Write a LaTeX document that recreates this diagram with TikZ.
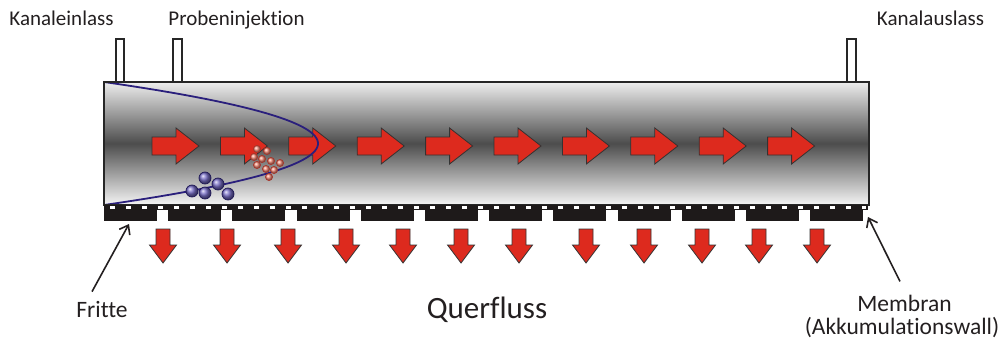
\documentclass[tikz,border=0pt]{standalone}
\usepackage{fontspec}
\setmainfont{Carlito}[RawFeature=-liga]
\usetikzlibrary{arrows.meta,calc}

\definecolor{flowred}{HTML}{DD2A1E}
\definecolor{profileblue}{HTML}{2A1F7C}
\definecolor{fritblack}{HTML}{1E1A1A}
\definecolor{textgray}{HTML}{231F20}

\tikzset{
    %Define standard arrow tip
    >={Straight Barb[length=8pt,width=12pt]},
    %Define style for labels
    label text/.style={
           font=\fontsize{21}{25}\selectfont,
           text=textgray,
           anchor=base,
           inner sep=0pt},
    lower label/.style={
           label text,
           font=\fontsize{23.5}{28}\selectfont},
    % Define arrow style
    pointer/.style={
           ->,
           line width=1.6pt,
           draw=textgray},
    % Flow arrows along and across the channel
    flowright/.pic={
           \draw[flowarrow] (0,-9) -- (24,-9) -- (24,-18) -- (47,0)
                 -- (24,18) -- (24,9) -- (0,9) -- cycle;},
    flowdown/.pic={
           \draw[flowarrow] (-7,0) -- (7,0) -- (7,16) -- (13.5,16)
                 -- (0,34) -- (-13.5,16) -- (-7,16) -- cycle;}
}

\begin{document}
\begin{tikzpicture}[x=1pt,y=-1pt]
	% Styles
	\tikzstyle{flowarrow} = [fill=flowred, draw=black!80, line width=0.8pt, line join=miter]
	\tikzstyle{port} = [fill=white, draw=black!85, line width=1.4pt]
	\tikzstyle{frit} = [fill=fritblack]
	\tikzstyle{bigparticle} = [shading=ball, ball color={rgb,255:red,120;green,110;blue,200}, draw=profileblue!70!black, line width=0.7pt]
	\tikzstyle{smallparticle} = [shading=ball, ball color={rgb,255:red,245;green,140;blue,120}, draw={rgb,255:red,170;green,50;blue,40}, line width=0.6pt]

	\useasboundingbox (0,0) rectangle (1003,342);

	% Inlet, injection and outlet ports
	\draw[port] (116,39) rectangle (124,82);
	\draw[port] (173,39) rectangle (182,83);
	\draw[port] (847,39) rectangle (856,82);

	% Channel
	\shade[top color=black!7, bottom color=black!4, middle color=black!70] (104,82) rectangle (869,205);

	% Longitudinal flow
	\foreach \i in {0,...,9}
		\pic at ({152+68.4*\i},146) {flowright};

	% Flow profile
	\draw[profileblue, line width=1.8pt] plot[domain=-61.5:61.5, samples=60] ({318-214*(\x/61.5)^2},{143.5+\x});

	\draw[line width=2pt, draw=black!85] (104,82) rectangle (869,205);

	% Membrane on the frit
	\fill[fritblack] (104,205) rectangle (868,210);
	\draw[white, line width=2.6pt, dash pattern=on 5pt off 11pt] (110,207.5) -- (866,207.5);
	\foreach \i in {0,...,11}
		\fill[frit] ({104+64.2*\i},210) rectangle +(53,11);

	% Cross flow
	\foreach \x in {163,227,288,346,403,461,519,586,644,702,759,817}
		\pic at (\x,229) {flowdown};

	% Sample particles
	\foreach \x/\y in {205/178,192/191,205/193,218/184,228/194}
		\draw[bigparticle] (\x,\y) circle (6pt);
	\foreach \x/\y in {257/149,267/151,254/157,262/159,271/161,280/163,257/165,266/169,274/170,269/177}
		\draw[smallparticle] (\x,\y) circle (3.6pt);

	% Labels
	\node[label text] (inlet) at (61.5,26) {Kanaleinlass};
	\node[label text] (injection) at (236.5,26) {Probeninjektion};
	\node[label text] (outlet) at (930.5,26) {Kanalauslass};
	\node[lower label] (fritte) at (102,317) {Fritte};
	\node[lower label] (membran) at (904.5,311) {Membran};
	\node[lower label] (wall) at (902,334) {(Akkumulationswall)};
	\node[label text, font=\fontsize{31}{37}\selectfont] (crossflow) at (487,318) {Querfluss};

	\coordinate (fritpoint) at (129,224);
	\coordinate (membranpoint) at (868,217);
	\draw[pointer] ($(fritte.north)+(-10,-9)$) -- (fritpoint);
	\draw[pointer] ($(membran.north)+(-4.5,-13)$) -- (membranpoint);
\end{tikzpicture}
\end{document}
